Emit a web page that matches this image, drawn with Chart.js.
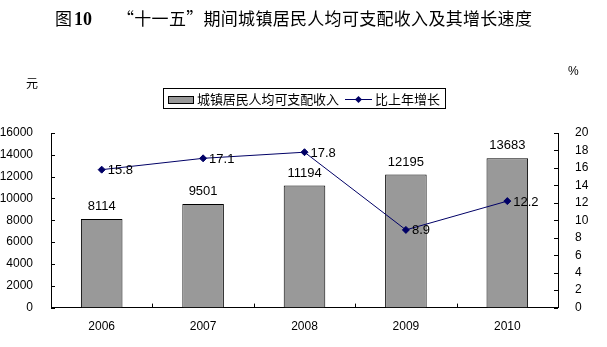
<!DOCTYPE html>
<html>
<head>
<meta charset="utf-8">
<script src="https://cdn.jsdelivr.net/npm/chart.js@4/dist/chart.umd.min.js"></script>
<style>
  html, body { margin: 0; padding: 0; background: #fff; }
  #wrap { position: relative; width: 607px; height: 347px; overflow: hidden; }
  #c { position: absolute; left: 0; top: 0; }
  .t { position: absolute; white-space: nowrap; color: #000; }
  #title { left: 55px; top: 6px; font: 17px "Noto Sans CJK SC", sans-serif; line-height: 24px; }
  #title b { font: bold 18px "Liberation Serif", serif; margin-left: 2px; }
  #title .rest { position: absolute; left: 62px; top: 0; letter-spacing: 0.3px; }
  #yuan { left: 26px; top: 74px; font: 12px "Noto Sans CJK SC", sans-serif; line-height: 18px; }
  #pct { left: 568px; top: 63px; font: 12px "Liberation Sans", sans-serif; line-height: 16px; }
  #legend { left: 163px; top: 88px; width: 283px; height: 21px; border: 1px solid #000; box-sizing: border-box;
            font: 13px "Noto Sans CJK SC", sans-serif; line-height: 19px; }
  #legend .sw { position: absolute; left: 4px; top: 7px; width: 26px; height: 8px; background: #999; border: 1px solid #000; box-sizing: border-box; }
  #legend .l1 { position: absolute; left: 33px; top: 0; letter-spacing: -0.1px; }
  #legend .ln { position: absolute; left: 181px; top: 10px; width: 27px; height: 1px; background: #000066; }
  #legend .dm { position: absolute; left: 192px; top: 8px; width: 5px; height: 5px; background: #000066; transform: rotate(45deg); }
  #legend .l2 { position: absolute; left: 211px; top: 0; }
</style>
</head>
<body>
<div id="wrap">
  <canvas id="c" width="607" height="347"></canvas>
  <div class="t" id="title"><span>图</span><b>10</b><span class="rest">“十一五”期间城镇居民人均可支配收入及其增长速度</span></div>
  <div class="t" id="yuan">元</div>
  <div class="t" id="pct">%</div>
  <div class="t" id="legend">
    <div class="sw"></div><span class="l1">城镇居民人均可支配收入</span>
    <div class="ln"></div><div class="dm"></div><span class="l2">比上年增长</span>
  </div>
</div>
<script>
const years = ['2006', '2007', '2008', '2009', '2010'];
const income = [8114, 9501, 11194, 12195, 13683];
const growth = [15.8, 17.1, 17.8, 8.9, 12.2];
const incomeTicks = [0, 2000, 4000, 6000, 8000, 10000, 12000, 14000, 16000];
const growthTicks = [0, 2, 4, 6, 8, 10, 12, 14, 16, 18, 20];

const NAVY = '#000066';
const FONT = '"Liberation Sans", Arial, sans-serif';

// Inward tick marks on the value axes and between categories
const innerTicks = {
  id: 'innerTicks',
  afterDraw(chart) {
    const ctx = chart.ctx;
    ctx.save();
    ctx.strokeStyle = '#000';
    ctx.lineWidth = 1;
    const yl = chart.scales.y, yr = chart.scales.y1, x = chart.scales.x;
    yl.ticks.forEach(t => {
      const y = Math.round(yl.getPixelForValue(t.value)) + 0.5;
      ctx.beginPath(); ctx.moveTo(yl.right, y); ctx.lineTo(yl.right + 4, y); ctx.stroke();
    });
    yr.ticks.forEach(t => {
      const y = Math.round(yr.getPixelForValue(t.value)) + 0.5;
      ctx.beginPath(); ctx.moveTo(yr.left - 4, y); ctx.lineTo(yr.left, y); ctx.stroke();
    });
    const step = (x.right - x.left) / years.length;
    for (let i = 1; i < years.length; i++) {
      const px = Math.round(x.left + step * i) + 0.5;
      ctx.beginPath(); ctx.moveTo(px, x.top); ctx.lineTo(px, x.top - 4); ctx.stroke();
    }
    ctx.restore();
  }
};

// Value labels: above bars, to the right of line points
const valueLabels = {
  id: 'valueLabels',
  afterDatasetsDraw(chart) {
    const ctx = chart.ctx;
    ctx.save();
    ctx.font = '13px ' + FONT;
    ctx.fillStyle = '#000';
    const bars = chart.getDatasetMeta(0).data;
    ctx.textAlign = 'center';
    ctx.textBaseline = 'bottom';
    bars.forEach((b, i) => ctx.fillText(String(income[i]), b.x, b.y - 6));
    const pts = chart.getDatasetMeta(1).data;
    ctx.textAlign = 'left';
    ctx.textBaseline = 'middle';
    pts.forEach((p, i) => ctx.fillText(growth[i].toFixed(1), p.x + 6, p.y + 1));
    ctx.restore();
  }
};

const tickFont = { family: FONT, size: 12 };

new Chart(document.getElementById('c'), {
  data: {
    labels: years,
    datasets: [
      {
        type: 'bar',
        label: '城镇居民人均可支配收入',
        data: income,
        yAxisID: 'y',
        backgroundColor: '#999999',
        borderColor: '#000',
        borderWidth: 1,
        categoryPercentage: 1,
        barPercentage: 0.41,
        order: 2
      },
      {
        type: 'line',
        label: '比上年增长',
        data: growth,
        yAxisID: 'y1',
        borderColor: NAVY,
        borderWidth: 1,
        pointStyle: 'rectRot',
        pointRadius: 3.5,
        pointBackgroundColor: NAVY,
        pointBorderColor: NAVY,
        tension: 0,
        order: 1
      }
    ]
  },
  options: {
    responsive: false,
    animation: false,
    layout: { padding: { left: 0, right: 0, top: 133, bottom: 9 } },
    plugins: { legend: { display: false }, tooltip: { enabled: false }, title: { display: false } },
    scales: {
      x: {
        grid: { display: false },
        border: { display: true, color: '#000' },
        ticks: { color: '#000', font: tickFont, padding: 4 }
      },
      y: {
        position: 'left',
        min: 0, max: 16000,
        afterBuildTicks(s) { s.ticks = incomeTicks.map(v => ({ value: v })); },
        afterFit(s) { s.width = 51; },
        grid: { display: false },
        border: { display: true, color: '#000' },
        ticks: { color: '#000', font: tickFont, padding: 10, autoSkip: false, callback: v => String(v) }
      },
      y1: {
        position: 'right',
        min: 0, max: 20,
        afterBuildTicks(s) { s.ticks = growthTicks.map(v => ({ value: v })); },
        afterFit(s) { s.width = 49; },
        grid: { display: false },
        border: { display: true, color: '#000' },
        ticks: { color: '#000', font: tickFont, padding: 9, autoSkip: false, callback: v => String(v) }
      }
    }
  },
  plugins: [innerTicks, valueLabels]
});
</script>
</body>
</html>
